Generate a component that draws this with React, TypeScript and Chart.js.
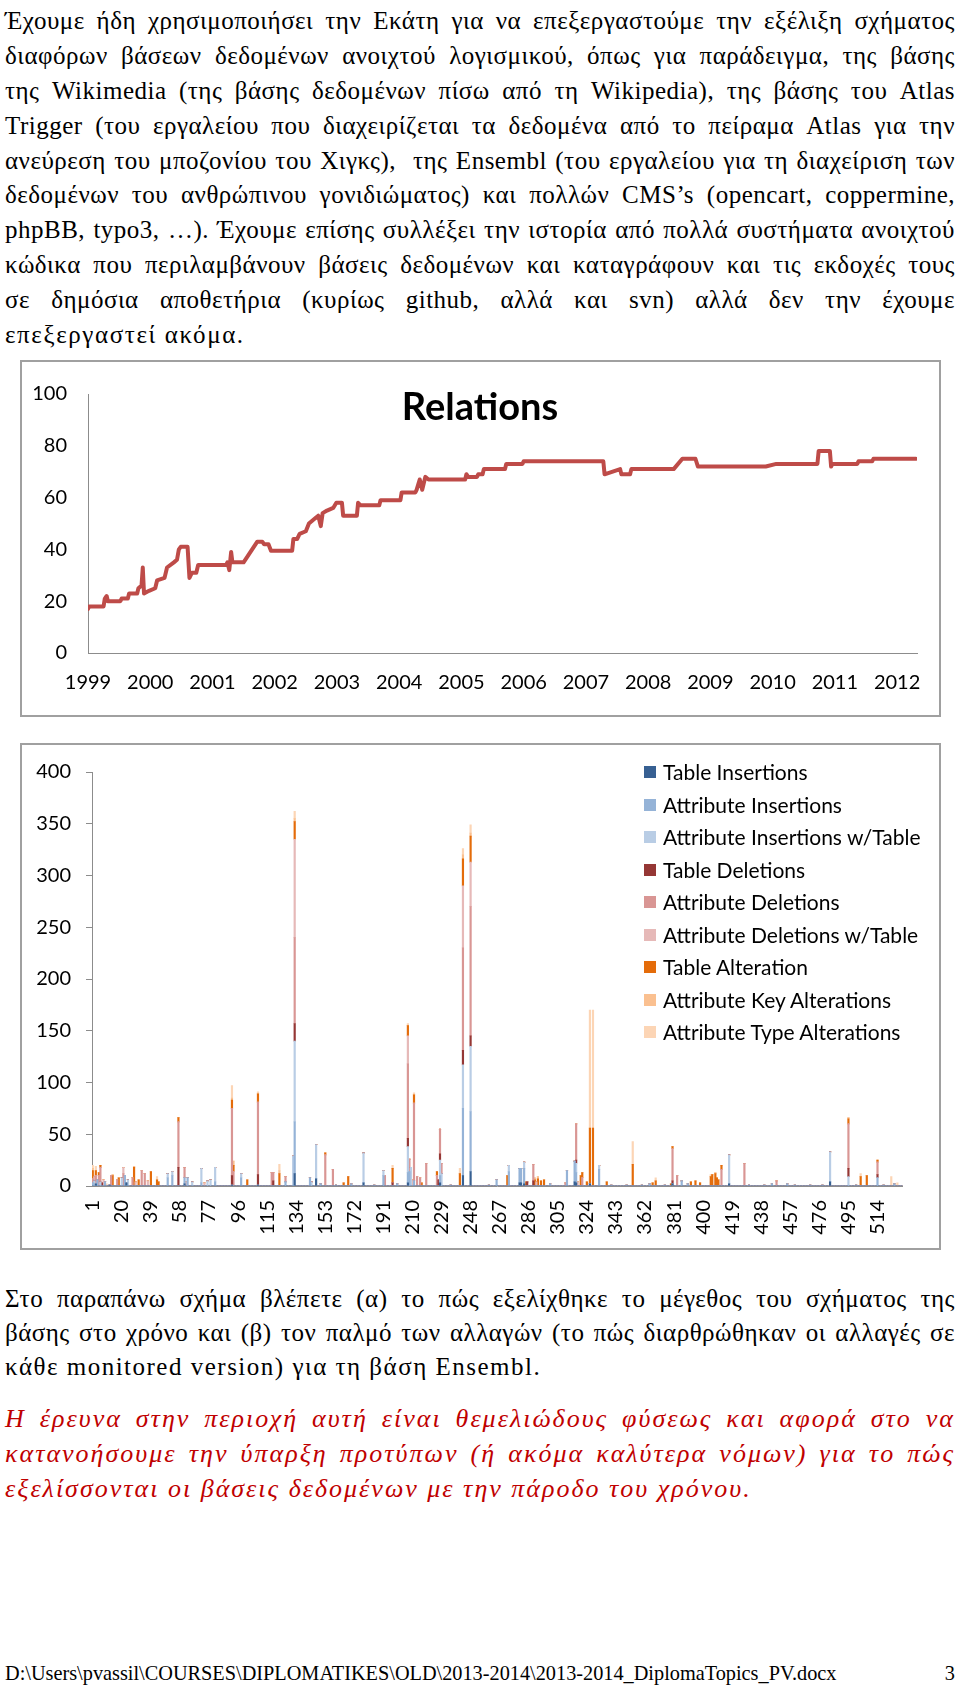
import React, { useEffect, useRef } from "react";
import { Chart, registerables } from "chart.js";

Chart.register(...registerables);

// ---------- Relations (line chart) ----------
const relYears = [1999.00, 1999.02, 1999.25, 1999.27, 1999.30, 1999.32, 1999.52, 1999.54, 1999.64, 1999.66, 1999.79, 1999.81, 1999.86, 1999.88, 1999.90, 1999.98, 2000.08, 2000.11, 2000.23, 2000.27, 2000.38, 2000.43, 2000.46, 2000.49, 2000.60, 2000.63, 2000.67, 2000.74, 2000.77, 2001.22, 2001.24, 2001.27, 2001.30, 2001.32, 2001.50, 2001.72, 2001.80, 2001.83, 2001.90, 2001.94, 2002.28, 2002.30, 2002.36, 2002.40, 2002.50, 2002.55, 2002.65, 2002.70, 2002.74, 2002.77, 2002.84, 2002.94, 2002.99, 2003.08, 2003.10, 2003.32, 2003.34, 2003.38, 2003.68, 2003.70, 2004.02, 2004.04, 2004.26, 2004.28, 2004.33, 2004.37, 2004.42, 2004.47, 2005.06, 2005.08, 2005.11, 2005.25, 2005.27, 2005.34, 2005.36, 2005.70, 2005.72, 2005.98, 2006.00, 2007.28, 2007.30, 2007.55, 2007.57, 2007.71, 2007.73, 2008.41, 2008.55, 2008.76, 2008.80, 2009.89, 2010.06, 2010.72, 2010.74, 2010.92, 2010.94, 2010.96, 2011.36, 2011.38, 2011.60, 2011.62, 2012.30];
const relValues = [17, 18, 18, 21, 22, 20, 20, 21, 21, 23, 23, 25, 26, 33, 23, 24, 25, 28, 29, 33, 35, 36, 40, 41, 41, 29, 31, 31, 34, 34, 35, 32, 39, 35, 35, 43, 43, 42, 42, 39.5, 39.5, 44, 44, 46, 47, 50, 52, 53, 49, 54, 55, 56, 58, 58, 53, 53, 58, 57, 57, 59, 59, 62, 62, 63, 67, 63, 68, 67, 67, 69, 68, 68, 69, 69, 71, 71, 73, 73, 74, 74, 69, 71, 69, 69, 71, 71, 75, 75, 72, 72, 73, 73, 78, 78, 72, 73, 73, 74, 74, 75, 75];
const yearTicks = [1999, 2000, 2001, 2002, 2003, 2004, 2005, 2006, 2007, 2008, 2009, 2010, 2011, 2012];
const relTitle = "Relations";

// ---------- Changes per version (stacked bars) ----------
const versionCount = 530;
const versionLabels = Array.from({ length: versionCount }, (_, i) => String(i + 1));
const labelEvery = 19;

const seriesNames = [
  "Table Insertions",
  "Attribute Insertions",
  "Attribute Insertions w/Table",
  "Table Deletions",
  "Attribute Deletions",
  "Attribute Deletions w/Table",
  "Table Alteration",
  "Attribute Key Alterations",
  "Attribute Type Alterations",
];
const seriesColors = ["#376092", "#95B3D7", "#B9CDE5", "#953735", "#D99694", "#E6B9B8", "#E46C0A", "#FAC090", "#FCD5B5"];

// [version, value] pairs (versions without an entry are 0)
const tableInsertions: [number, number][] = [[3, 2], [12, 1], [23, 3], [61, 2], [92, 1], [109, 1], [133, 12], [147, 7], [178, 3], [207, 3], [228, 3], [243, 10], [248, 14], [280, 3], [281, 3], [283, 2], [316, 4], [317, 3], [326, 2], [380, 2], [417, 2], [483, 4]];
const attributeInsertions: [number, number][] = [[1, 3], [4, 6], [9, 4], [22, 10], [50, 8], [53, 10], [61, 6], [63, 8], [72, 3], [81, 4], [98, 8], [127, 4], [133, 50], [143, 8], [150, 2], [160, 1], [170, 2], [185, 1], [191, 10], [200, 2], [207, 10], [208, 14], [211, 5], [228, 7], [235, 1], [243, 65], [248, 58], [260, 1], [265, 6], [273, 14], [280, 14], [281, 14], [283, 15], [300, 2], [311, 15], [316, 20], [317, 10], [332, 16], [340, 1], [350, 1], [360, 1], [365, 2], [375, 1], [386, 5], [390, 2], [430, 1], [440, 1], [445, 2], [455, 2], [460, 1], [470, 1], [478, 1], [500, 1], [514, 8], [518, 1], [525, 2]];
const attributeInsertionsWithTable: [number, number][] = [[2, 5], [6, 4], [20, 8], [24, 6], [50, 4], [53, 4], [66, 4], [72, 14], [76, 5], [78, 6], [81, 14], [98, 4], [132, 29], [133, 78], [144, 4], [147, 33], [178, 29], [191, 5], [207, 25], [209, 18], [228, 15], [229, 12], [243, 42], [248, 63], [273, 6], [283, 6], [317, 9], [332, 4], [417, 28], [483, 29], [495, 9]];
const tableDeletions: [number, number][] = [[7, 3], [57, 18], [92, 9], [109, 10], [119, 5], [133, 17], [197, 3], [207, 8], [227, 6], [228, 6], [243, 14], [248, 10], [285, 4], [289, 5], [317, 3], [380, 3], [495, 8], [514, 3]];
const attributeDeletions: [number, number][] = [[1, 4], [3, 8], [5, 10], [6, 14], [13, 10], [17, 6], [21, 12], [27, 8], [33, 15], [35, 12], [57, 44], [61, 10], [92, 65], [93, 14], [109, 70], [118, 13], [119, 8], [127, 5], [133, 83], [153, 30], [158, 16], [192, 10], [207, 72], [208, 12], [211, 75], [213, 9], [215, 8], [219, 22], [226, 10], [228, 24], [229, 10], [243, 99], [248, 125], [289, 16], [310, 3], [317, 35], [321, 8], [380, 31], [383, 10], [412, 16], [427, 22], [448, 5], [495, 43], [514, 12]];
const attributeDeletionsWithTable: [number, number][] = [[2, 4], [8, 6], [21, 6], [29, 4], [37, 5], [62, 4], [74, 3], [133, 95], [207, 27], [210, 6], [243, 60], [248, 43], [291, 4], [318, 4]];
const tableAlteration: [number, number][] = [[1, 8], [3, 5], [5, 3], [6, 2], [14, 10], [18, 8], [28, 18], [31, 6], [39, 14], [43, 6], [44, 4], [57, 4], [92, 8], [93, 6], [102, 6], [109, 8], [123, 12], [133, 17], [153, 2], [165, 3], [168, 9], [197, 14], [207, 10], [211, 8], [216, 3], [226, 4], [241, 12], [243, 26], [248, 25], [272, 10], [284, 4], [290, 6], [292, 7], [294, 5], [296, 6], [320, 10], [321, 5], [324, 4], [326, 54], [328, 56], [337, 4], [354, 21], [367, 3], [369, 5], [379, 2], [380, 2], [392, 4], [395, 5], [398, 3], [405, 9], [406, 11], [408, 12], [409, 8], [410, 6], [412, 4], [495, 5], [503, 9], [507, 10], [514, 2]];
const attributeKeyAlterations: [number, number][] = [[1, 2], [14, 1], [28, 1], [92, 2], [93, 4], [123, 3], [133, 3], [243, 4], [248, 3], [290, 2], [292, 2], [408, 1], [495, 1]];
const attributeTypeAlterations: [number, number][] = [[1, 3], [3, 4], [10, 2], [43, 3], [92, 12], [109, 2], [123, 6], [133, 7], [197, 3], [207, 2], [211, 2], [241, 5], [243, 6], [248, 8], [326, 114], [328, 114], [354, 22], [369, 3], [405, 2], [503, 3], [523, 9], [527, 3]];

const seriesPoints = [
  tableInsertions,
  attributeInsertions,
  attributeInsertionsWithTable,
  tableDeletions,
  attributeDeletions,
  attributeDeletionsWithTable,
  tableAlteration,
  attributeKeyAlterations,
  attributeTypeAlterations,
];

// ---------- Text ----------
const para1 = [
  "Έχουμε ήδη χρησιμοποιήσει την Εκάτη για να επεξεργαστούμε την εξέλιξη σχήματος",
  "διαφόρων βάσεων δεδομένων ανοιχτού λογισμικού, όπως για παράδειγμα, της βάσης",
  "της Wikimedia (της βάσης δεδομένων πίσω από τη Wikipedia), της βάσης του Atlas",
  "Trigger (του εργαλείου που διαχειρίζεται τα δεδομένα από το πείραμα Atlas για την",
  "ανεύρεση του μποζονίου του Χιγκς),  της Ensembl (του εργαλείου για τη διαχείριση των",
  "δεδομένων του ανθρώπινου γονιδιώματος) και πολλών CMS’s (opencart, coppermine,",
  "phpBB, typo3, …). Έχουμε επίσης συλλέξει την ιστορία από πολλά συστήματα ανοιχτού",
  "κώδικα που περιλαμβάνουν βάσεις δεδομένων και καταγράφουν και τις εκδοχές τους",
  "σε δημόσια αποθετήρια (κυρίως github, αλλά και svn) αλλά δεν την έχουμε",
  "επεξεργαστεί ακόμα.",
];
const para2 = [
  "Στο παραπάνω σχήμα βλέπετε (α) το πώς εξελίχθηκε το μέγεθος του σχήματος της",
  "βάσης στο χρόνο και (β) τον παλμό των αλλαγών (το πώς διαρθρώθηκαν οι αλλαγές σε",
  "κάθε monitored version) για τη βάση Ensembl.",
];
const para3 = [
  "Η έρευνα στην περιοχή αυτή είναι θεμελιώδους φύσεως και αφορά στο να",
  "κατανοήσουμε την ύπαρξη προτύπων (ή ακόμα καλύτερα νόμων) για το πώς",
  "εξελίσσονται οι βάσεις δεδομένων με την πάροδο του χρόνου.",
];
const footerPath = "D:\\Users\\pvassil\\COURSES\\DIPLOMATIKES\\OLD\\2013-2014\\2013-2014_DiplomaTopics_PV.docx";
const footerPage = "3";

const serif = "'Liberation Serif', 'DejaVu Serif', serif";
const sans = "Lato, 'Open Sans', sans-serif";
const axisColor = "#8c8c8c";

function Paragraph(props: { lines: string[]; top: number; lineHeight: number; lastSpacing?: number; style?: React.CSSProperties }) {
  const { lines, top, lineHeight, lastSpacing, style } = props;
  return (
    <div style={{ position: "absolute", left: 5, top, width: 950, ...style }}>
      {lines.map((l, i) => {
        const last = i === lines.length - 1;
        return (
          <div
            key={i}
            style={{
              height: lineHeight,
              lineHeight: lineHeight + "px",
              textAlign: "justify",
              textAlignLast: last ? "left" : "justify",
              whiteSpace: "pre",
              overflow: "visible",
              ...(last && lastSpacing !== undefined ? { letterSpacing: lastSpacing } : {}),
            }}
          >
            {l}
          </div>
        );
      })}
    </div>
  );
}

function RelationsChart() {
  const ref = useRef<HTMLCanvasElement | null>(null);
  useEffect(() => {
    if (!ref.current) return;
    const chart = new Chart(ref.current, {
      type: "line",
      data: {
        datasets: [
          {
            data: relYears.map((x, i) => ({ x, y: relValues[i] })),
            borderColor: "#BE4B48",
            borderWidth: 4,
            pointRadius: 0,
            tension: 0,
            fill: false,
            borderJoinStyle: "round",
            borderCapStyle: "round",
          } as any,
        ],
      },
      options: {
        animation: false,
        responsive: false,
        layout: { padding: { left: 0, top: 27, right: 23, bottom: 0 } },
        plugins: { legend: { display: false }, tooltip: { enabled: false }, title: { display: false } },
        scales: {
          x: {
            type: "linear",
            min: 1999,
            max: 2012.32,
            afterBuildTicks: (s: any) => {
              s.ticks = yearTicks.map((v) => ({ value: v }));
            },
            afterFit: (s: any) => {
              s.height = 63;
            },
            grid: { display: false, drawTicks: false },
            border: { display: true, color: axisColor, width: 1 },
            ticks: {
              padding: 18,
              autoSkip: false,
              maxRotation: 0,
              color: "#000",
              font: { family: sans, size: 20 },
              callback: (v: any) => String(v),
            },
          },
          y: {
            min: 0,
            max: 100,
            afterFit: (s: any) => {
              s.width = 67;
            },
            grid: { display: false, drawTicks: false },
            border: { display: true, color: axisColor, width: 1 },
            ticks: { stepSize: 20, padding: 21, color: "#000", font: { family: sans, size: 20 } },
          },
        },
      } as any,
    });
    return () => chart.destroy();
  }, []);
  return <canvas ref={ref} width={919} height={355} style={{ position: "absolute", left: 21, top: 361 }} />;
}

function ChangesChart() {
  const ref = useRef<HTMLCanvasElement | null>(null);
  useEffect(() => {
    if (!ref.current) return;
    const datasets = seriesNames.map((name, si) => {
      const arr = new Array(versionCount).fill(0);
      for (const [v, val] of seriesPoints[si]) arr[v - 1] += val;
      return {
        label: name,
        data: arr,
        backgroundColor: seriesColors[si],
        borderWidth: 0,
        barPercentage: 1,
        categoryPercentage: 1,
      };
    });
    const chart = new Chart(ref.current, {
      type: "bar",
      data: { labels: versionLabels, datasets },
      options: {
        animation: false,
        responsive: false,
        layout: { padding: { left: 0, top: 25, right: 26, bottom: 0 } },
        plugins: { legend: { display: false }, tooltip: { enabled: false } },
        scales: {
          x: {
            stacked: true,
            afterFit: (s: any) => {
              s.height = 62;
            },
            grid: { display: false, drawTicks: false },
            border: { display: true, color: axisColor, width: 1 },
            ticks: {
              autoSkip: false,
              minRotation: 90,
              maxRotation: 90,
              padding: 14,
              color: "#000",
              font: { family: sans, size: 20 },
              callback: (_v: any, i: number) => (i % labelEvery === 0 ? versionLabels[i] : ""),
            },
          },
          y: {
            stacked: true,
            min: 0,
            max: 400,
            afterFit: (s: any) => {
              s.width = 71;
            },
            grid: { display: true, drawOnChartArea: false, drawTicks: true, tickLength: 6, color: axisColor },
            border: { display: true, color: axisColor, width: 1 },
            ticks: { stepSize: 50, padding: 15, color: "#000", font: { family: sans, size: 20 } },
          },
        },
      } as any,
    });
    return () => chart.destroy();
  }, []);
  return <canvas ref={ref} width={919} height={503} style={{ position: "absolute", left: 21, top: 745 }} />;
}

export default function App() {
  return (
    <div style={{ position: "absolute", left: 0, top: 0, width: 960, height: 1685, background: "#fff", overflow: "hidden", color: "#000" }}>
      <Paragraph lines={para1} top={4} lineHeight={34.9} lastSpacing={1.6} style={{ fontFamily: serif, fontSize: 25, letterSpacing: 0.5 }} />

      {/* Chart 1 box */}
      <div style={{ position: "absolute", left: 20, top: 360, width: 921, height: 357, border: "2px solid #a0a0a0", boxSizing: "border-box" }} />
      <RelationsChart />
      <div
        style={{
          position: "absolute",
          left: 380,
          width: 200,
          top: 383,
          textAlign: "center",
          fontFamily: sans,
          fontWeight: 700,
          fontSize: 38,
          lineHeight: "44px",
        }}
      >
        {relTitle}
      </div>

      {/* Chart 2 box */}
      <div style={{ position: "absolute", left: 20, top: 743, width: 921, height: 507, border: "2px solid #a0a0a0", boxSizing: "border-box" }} />
      <ChangesChart />
      <div style={{ position: "absolute", left: 644, top: 756 }}>
        {seriesNames.map((n, i) => (
          <div key={n} style={{ position: "absolute", left: 0, top: i * 32.5, height: 32.5, width: 300, whiteSpace: "nowrap" }}>
            <div style={{ position: "absolute", left: 0, top: 10, width: 12, height: 12, background: seriesColors[i] }} />
            <div style={{ position: "absolute", left: 19, top: 0, lineHeight: "32px", fontFamily: sans, fontSize: 21 }}>{n}</div>
          </div>
        ))}
      </div>

      <Paragraph lines={para2} top={1282} lineHeight={34} lastSpacing={1.5} style={{ fontFamily: serif, fontSize: 25, letterSpacing: 0.5 }} />
      <Paragraph
        lines={para3}
        top={1401}
        lineHeight={35}
        style={{ fontFamily: serif, fontSize: 26, fontStyle: "italic", color: "#C00000", letterSpacing: 2 }}
      />

      <div style={{ position: "absolute", left: 5, top: 1661, fontFamily: serif, fontSize: 20.3, lineHeight: "24px", whiteSpace: "nowrap" }}>
        {footerPath}
      </div>
      <div style={{ position: "absolute", left: 900, width: 55, textAlign: "right", top: 1661, fontFamily: serif, fontSize: 20.3, lineHeight: "24px" }}>
        {footerPage}
      </div>
    </div>
  );
}
